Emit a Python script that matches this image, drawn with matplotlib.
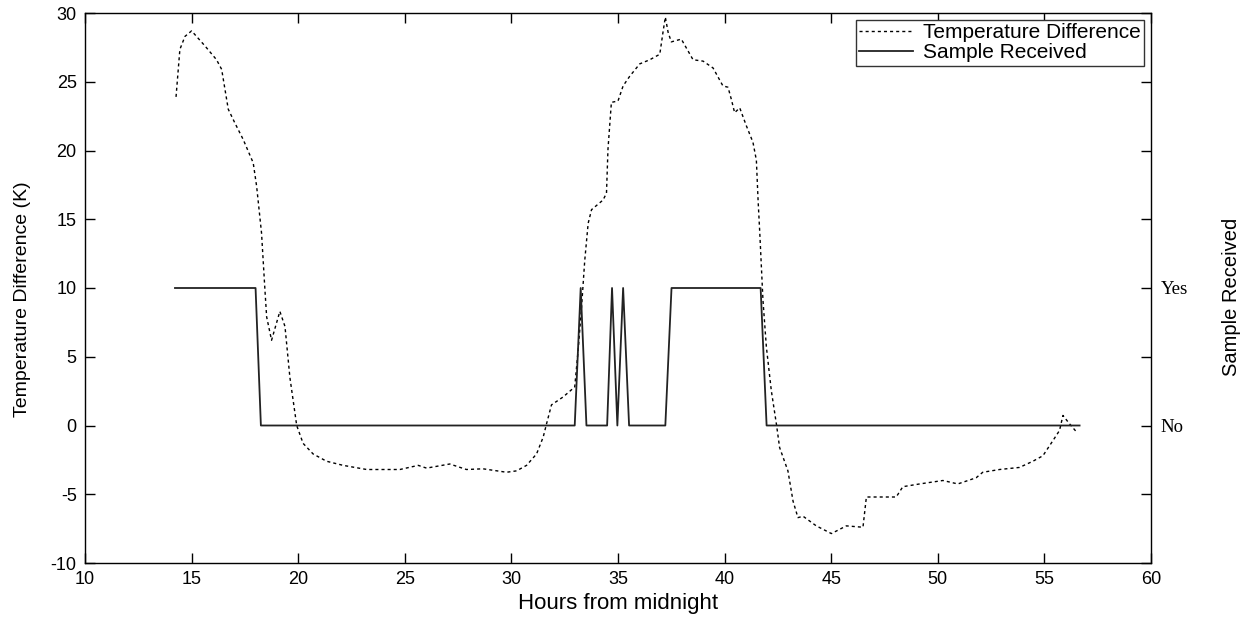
import matplotlib
matplotlib.use("Agg")
import matplotlib.pyplot as plt
import numpy as np

# Temperature difference (K) vs hours from midnight
temp_hours = [14.27, 14.45, 14.69, 15.0, 15.63, 16.17, 16.41, 16.72, 17.03, 17.42, 17.89,
              18.05, 18.28, 18.44, 18.52, 18.75, 19.14, 19.38, 19.61, 19.93, 20.23, 20.7,
              21.33, 22.11, 23.21, 24.77, 25.63, 26.02, 27.11, 27.89, 28.67, 29.77, 30.24,
              30.71, 31.18, 31.49, 31.65, 31.88, 32.42, 32.97, 33.13, 33.29, 33.44, 33.6,
              33.76, 34.3, 34.46, 34.53, 34.69, 35.0, 35.24, 35.55, 36.02, 36.49, 36.96,
              37.11, 37.22, 37.35, 37.5, 37.97, 38.52, 38.99, 39.46, 39.92, 40.16, 40.32,
              40.47, 40.71, 41.02, 41.33, 41.49, 41.57, 41.65, 41.8, 41.96, 42.19, 42.43,
              42.58, 42.97, 43.21, 43.44, 43.68, 44.3, 45.01, 45.71, 46.49, 46.65, 47.12,
              48.05, 48.36, 49.15, 50.24, 50.94, 51.8, 52.11, 52.9, 53.83, 54.46, 54.93,
              55.4, 55.71, 55.87, 56.18, 56.49]
temp_diff = [23.9, 27.35, 28.3, 28.7, 27.6, 26.6, 25.9, 23.0, 22.0, 20.8, 19.1,
             17.4, 14.0, 9.85, 7.9, 6.2, 8.3, 7.2, 3.5, 0.0, -1.3, -2.07,
             -2.6, -2.9, -3.2, -3.2, -2.9, -3.1, -2.8, -3.2, -3.15, -3.4, -3.3,
             -2.9, -2.07, -0.85, 0.13, 1.5, 2.07, 2.8, 5.47, 8.6, 12.0, 14.7,
             15.7, 16.4, 16.9, 20.1, 23.5, 23.6, 24.7, 25.4, 26.3, 26.6, 27.0,
             28.6, 29.7, 28.6, 27.9, 28.1, 26.6, 26.5, 26.0, 24.7, 24.6, 23.7,
             22.75, 23.1, 21.8, 20.6, 19.3, 16.4, 14.0, 9.1, 5.7, 2.55, 0.1,
             -1.6, -3.3, -5.5, -6.7, -6.6, -7.3, -7.86, -7.3, -7.4, -5.2, -5.2,
             -5.2, -4.45, -4.25, -4.0, -4.25, -3.8, -3.4, -3.2, -3.05, -2.6, -2.2,
             -1.1, -0.36, 0.73, 0.12, -0.44]

# Sample received (1 = Yes, 0 = No)
sample_hours = [14.22, 18.0, 18.25, 32.97, 33.25, 33.52, 34.49, 34.72, 34.97, 35.24,
                35.52, 37.22, 37.51, 41.69, 41.97, 56.65]
sample_recv = [1, 1, 0, 0, 1, 0, 0, 1, 0, 1, 0, 0, 1, 1, 0, 0]

x_ticks = [10, 15, 20, 25, 30, 35, 40, 45, 50, 55, 60]
y_ticks = [-10, -5, 0, 5, 10, 15, 20, 25, 30]

plt.rcParams['font.family'] = ['Liberation Sans', 'DejaVu Sans']
plt.rcParams['axes.unicode_minus'] = False

fig = plt.figure(figsize=(12.51, 6.21), dpi=100)
ax = fig.add_axes([85/1251, 1 - 563/621, (1151 - 85)/1251, (563 - 13)/621])

l1, = ax.plot(temp_hours, temp_diff, color='black', lw=1.0, linestyle=(0, (2.2, 2.2)),
              label='Temperature Difference')
ax.set_xlim(10, 60)
ax.set_ylim(-10, 30)
ax.set_xticks(x_ticks)
ax.set_yticks(y_ticks)
ax.tick_params(direction='in', length=7, width=1, labelsize=13, top=True, right=False,
               pad=6, colors='black')
ax.set_xlabel('Hours from midnight', fontsize=16, labelpad=3)
ax.set_ylabel('Temperature Difference (K)', fontsize=14)
ax.yaxis.set_label_coords(-0.0505, 0.48)
for s in ax.spines.values():
    s.set_linewidth(1.0)
    s.set_color('#333333')

ax2 = ax.twinx()
l2, = ax2.plot(sample_hours, sample_recv, color='#222222', lw=1.3, label='Sample Received')
ax2.set_ylim(-1, 3)
r_ticks = [(t / 10) for t in y_ticks]
ax2.set_yticks(r_ticks)
ax2.set_yticklabels(['Yes' if t == 1 else ('No' if t == 0 else '') for t in r_ticks],
                    fontfamily='Liberation Serif', fontsize=13.5)
ax2.tick_params(direction='in', length=7, width=1, pad=7)
ax2.set_ylabel('Sample Received', fontsize=14.5)
ax2.yaxis.set_label_coords(1.0665, 0.483)

leg = ax2.legend([l1, l2], ['Temperature Difference', 'Sample Received'], loc='upper right',
                 fancybox=False, edgecolor='#333333', framealpha=1, fontsize=15,
                 borderaxespad=0.35, handlelength=2.6, handletextpad=0.45,
                 borderpad=0.15, labelspacing=0.05)
leg.get_frame().set_linewidth(1.0)

fig.savefig('out.png', dpi=100)
